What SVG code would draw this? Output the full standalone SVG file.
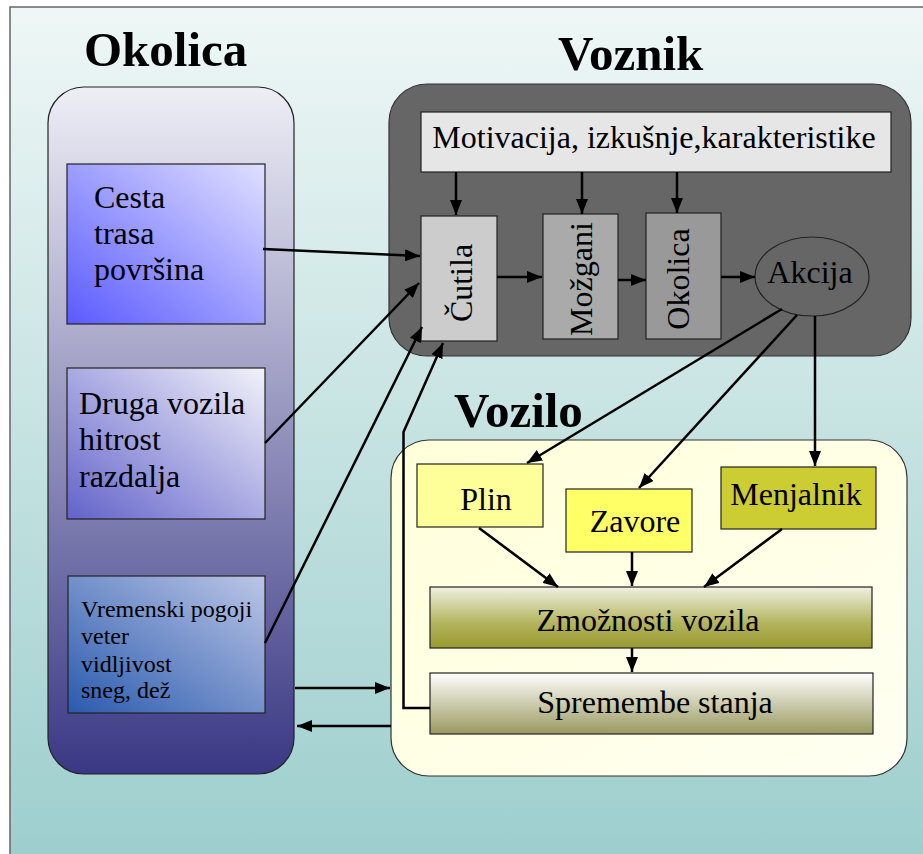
<svg xmlns="http://www.w3.org/2000/svg" width="923" height="854" viewBox="0 0 923 854">
<defs>
<linearGradient id="bg" x1="0" y1="0" x2="0" y2="1"><stop offset="0" stop-color="#eef7f6"/><stop offset="1" stop-color="#9acdcc"/></linearGradient>
<linearGradient id="okol" x1="0" y1="0" x2="0" y2="1"><stop offset="0" stop-color="#eeeef6"/><stop offset="0.45" stop-color="#9c9bc2"/><stop offset="1" stop-color="#3a3884"/></linearGradient>
<linearGradient id="cesta" x1="0" y1="1" x2="1" y2="0"><stop offset="0" stop-color="#5a5aff"/><stop offset="1" stop-color="#e0e0ff"/></linearGradient>
<linearGradient id="druga" x1="0" y1="1" x2="1" y2="0"><stop offset="0" stop-color="#6262ca"/><stop offset="1" stop-color="#f2f2fb"/></linearGradient>
<linearGradient id="vrem" x1="0" y1="1" x2="1" y2="0"><stop offset="0" stop-color="#2a5aae"/><stop offset="1" stop-color="#bcc6e6"/></linearGradient>
<linearGradient id="vozilo" x1="0" y1="0" x2="1" y2="1"><stop offset="0" stop-color="#ffffda"/><stop offset="1" stop-color="#fffff2"/></linearGradient>
<linearGradient id="zmoz" x1="0" y1="0" x2="0" y2="1"><stop offset="0" stop-color="#f0f0e2"/><stop offset="0.6" stop-color="#b3b35c"/><stop offset="1" stop-color="#999930"/></linearGradient>
<linearGradient id="sprem" x1="0" y1="0" x2="0" y2="1"><stop offset="0" stop-color="#ffffff"/><stop offset="1" stop-color="#9a9960"/></linearGradient>
<marker id="ah" markerUnits="userSpaceOnUse" markerWidth="16" markerHeight="12" refX="15" refY="6" orient="auto"><path d="M0,0 L15,6 L0,12 z" fill="#000"/></marker>
</defs>
<style>
.t{font-family:"Liberation Serif","Times New Roman",serif;fill:#000}
.title{font-weight:bold;font-size:49px}
.lbl{font-size:32px}
.box{stroke:#222;stroke-width:1.2}
.c{fill:none;stroke:#000;stroke-width:2.5}
</style>
<rect x="10" y="7" width="940" height="880" fill="url(#bg)" stroke="#666" stroke-width="1.5"/>

<g id="okolica-panel">
<rect x="48" y="87" width="246" height="687" rx="36" fill="url(#okol)" stroke="#222" stroke-width="1.2"/>
<text class="t title" x="84" y="66">Okolica</text>
</g>
<g id="cesta">
<rect class="box" x="67" y="164" width="198" height="160" fill="url(#cesta)"/>
<text class="t lbl" x="94" y="208">Cesta</text>
<text class="t lbl" x="94" y="244">trasa</text>
<text class="t lbl" x="94" y="280">površina</text>
</g>
<g id="druga-vozila">
<rect class="box" x="67" y="368" width="198" height="151" fill="url(#druga)"/>
<text class="t lbl" x="79" y="414">Druga vozila</text>
<text class="t lbl" x="79" y="450">hitrost</text>
<text class="t lbl" x="79" y="487">razdalja</text>
</g>
<g id="vremenski">
<rect class="box" x="68" y="576" width="197" height="137" fill="url(#vrem)"/>
<text class="t" font-size="24" x="81" y="617">Vremenski pogoji</text>
<text class="t" font-size="24" x="81" y="644">veter</text>
<text class="t" font-size="24" x="81" y="672">vidljivost</text>
<text class="t" font-size="24" x="81" y="698">sneg, dež</text>
</g>

<g id="voznik-panel">
<rect x="389" y="84" width="522" height="272" rx="38" fill="#666" stroke="#333" stroke-width="1.2"/>
<text class="t title" x="558" y="70">Voznik</text>
</g>
<g id="motivacija">
<rect class="box" x="421" y="112" width="470" height="60" fill="#e6e6e6"/>
<text class="t lbl" x="654" y="148" text-anchor="middle">Motivacija, izkušnje,karakteristike</text>
</g>
<g id="cutila">
<rect class="box" x="421" y="216" width="76" height="125" fill="#cccccc"/>
<text class="t lbl" transform="translate(461,283) rotate(-90)" text-anchor="middle" dominant-baseline="central">Čutila</text>
</g>
<g id="mozgani">
<rect class="box" x="543" y="214" width="75" height="125" fill="#aaaaaa"/>
<text class="t lbl" transform="translate(581,279) rotate(-90)" text-anchor="middle" dominant-baseline="central">Možgani</text>
</g>
<g id="okolica-box">
<rect class="box" x="646" y="213" width="75" height="126" fill="#999999"/>
<text class="t lbl" transform="translate(678,279) rotate(-90)" text-anchor="middle" dominant-baseline="central">Okolica</text>
</g>
<g id="akcija">
<ellipse cx="812" cy="276.5" rx="57" ry="39.5" fill="#666" stroke="#222" stroke-width="1.2"/>
<text class="t lbl" x="810" y="283" text-anchor="middle">Akcija</text>
</g>

<g id="vozilo-panel">
<rect x="391" y="440" width="516" height="336" rx="38" fill="url(#vozilo)" stroke="#333" stroke-width="1.2"/>
<text class="t title" x="454" y="427">Vozilo</text>
</g>
<g id="plin">
<rect class="box" x="417" y="464" width="126" height="63" fill="#ffff99"/>
<text class="t lbl" x="486" y="510" text-anchor="middle">Plin</text>
</g>
<g id="zavore">
<rect class="box" x="566" y="489" width="126" height="63" fill="#ffff66"/>
<text class="t lbl" x="635" y="532" text-anchor="middle">Zavore</text>
</g>
<g id="menjalnik">
<rect class="box" x="721" y="467" width="155" height="62" fill="#cccc33"/>
<text class="t lbl" x="796" y="505" text-anchor="middle">Menjalnik</text>
</g>
<g id="zmoznosti">
<rect class="box" x="430" y="587" width="442" height="61" fill="url(#zmoz)"/>
<text class="t lbl" x="648" y="631" text-anchor="middle">Zmožnosti vozila</text>
</g>
<g id="spremembe">
<rect class="box" x="430" y="673" width="443" height="61" fill="url(#sprem)"/>
<text class="t lbl" x="655" y="713" text-anchor="middle">Spremembe stanja</text>
</g>

<g id="connectors">
<line class="c" x1="456" y1="172" x2="456" y2="215" marker-end="url(#ah)"/>
<line class="c" x1="582" y1="172" x2="582" y2="214" marker-end="url(#ah)"/>
<line class="c" x1="677" y1="172" x2="677" y2="213" marker-end="url(#ah)"/>
<line class="c" x1="497" y1="277" x2="542" y2="277" marker-end="url(#ah)"/>
<line class="c" x1="618" y1="280" x2="646" y2="280" marker-end="url(#ah)"/>
<line class="c" x1="721" y1="277" x2="755" y2="277" marker-end="url(#ah)"/>
<line class="c" x1="263" y1="249" x2="420" y2="256" marker-end="url(#ah)"/>
<line class="c" x1="265" y1="443" x2="419" y2="283" marker-end="url(#ah)"/>
<line class="c" x1="265" y1="643" x2="422" y2="327" marker-end="url(#ah)"/>
<polyline class="c" points="430,708 403.5,708 403.5,432 443,343" marker-end="url(#ah)"/>
<line class="c" x1="782" y1="309" x2="527" y2="463" marker-end="url(#ah)"/>
<line class="c" x1="797" y1="315" x2="639" y2="488" marker-end="url(#ah)"/>
<line class="c" x1="815" y1="316" x2="815" y2="466" marker-end="url(#ah)"/>
<line class="c" x1="479" y1="528" x2="558" y2="587" marker-end="url(#ah)"/>
<line class="c" x1="632" y1="552" x2="632" y2="586" marker-end="url(#ah)"/>
<line class="c" x1="782" y1="529" x2="704" y2="587" marker-end="url(#ah)"/>
<line class="c" x1="632" y1="648" x2="632" y2="672" marker-end="url(#ah)"/>
<line class="c" x1="295" y1="688" x2="390" y2="688" marker-end="url(#ah)"/>
<line class="c" x1="391" y1="726" x2="297" y2="726" marker-end="url(#ah)"/>
</g>
</svg>
